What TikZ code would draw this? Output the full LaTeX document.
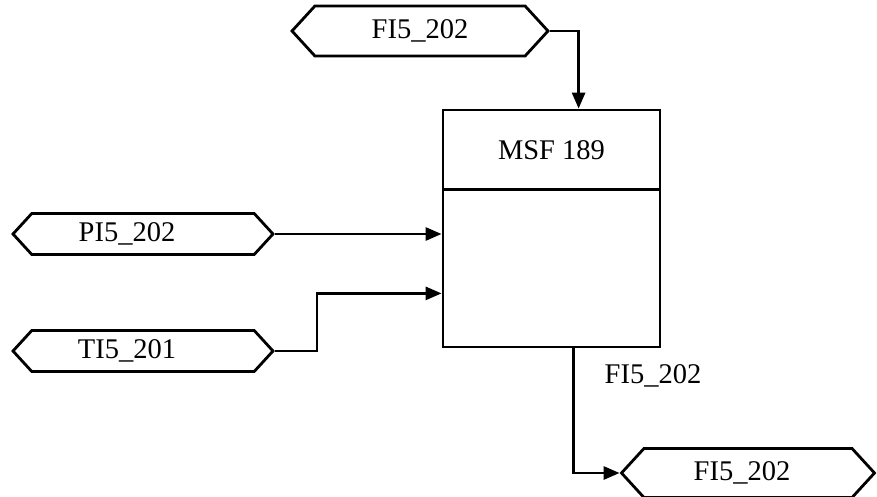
\documentclass[tikz,border=0pt]{standalone}
\usepackage{fontspec}
\setmainfont{Liberation Serif}
\usetikzlibrary{positioning,arrows.meta,shapes.symbols,calc}

\begin{document}
\begin{tikzpicture}[
    x=1pt, y=1pt,
    font=\fontsize{28.5}{33}\selectfont,
    >={Triangle[length=16pt,width=13pt]},
    line width=2.8pt,
    tag/.style={
        draw,
        signal,
        signal to=west and east,
        signal pointer angle=95,
        inner sep=0pt,
        line width=2.8pt,
        minimum height=41pt,
        minimum width=260pt
    },
    block/.style={
        draw,
        rectangle,
        line width=2.8pt,
        minimum width=217pt,
        minimum height=237pt
    },
    flow/.style={->, line width=2.8pt}
]
\useasboundingbox (0,0) rectangle (877,496);

% Block
\node[block] (msf) at (551.5,267.5) {};
\node (msftitle) at (551.5,346) {MSF 189};
\draw (msf.north west) ++(0,-81) coordinate (divl) -- (divl -| msf.east);

% Tags
\node[tag, minimum height=50pt, minimum width=256pt] (fitop) at (420,465) {FI5\_202};
\node[tag] (pi) at (143,262) {PI5\_202\hspace*{32pt}};
\node[tag] (ti) at (143,145) {TI5\_201\hspace*{32pt}};
\node[tag, minimum height=49pt, minimum width=253pt] (fiout) at (748,23) {FI5\_202\hspace*{12pt}};

% Connectors
\coordinate (topin) at ($(msf.north west)+(137,0)$);
\coordinate (tiin) at ($(msf.south west)+(0,55)$);
\coordinate (outp) at ($(msf.south west)+(132,0)$);
\draw[flow] (fitop.east) -| (topin);
\draw[flow] (pi.east) -- (pi.east -| msf.west);
\draw[flow] (ti.east) -- ++(42,0) |- (tiin);
\draw[flow] (outp) |- (fiout.west);
\node[anchor=west] (outlabel) at (600,120) {FI5\_202};

\end{tikzpicture}
\end{document}
